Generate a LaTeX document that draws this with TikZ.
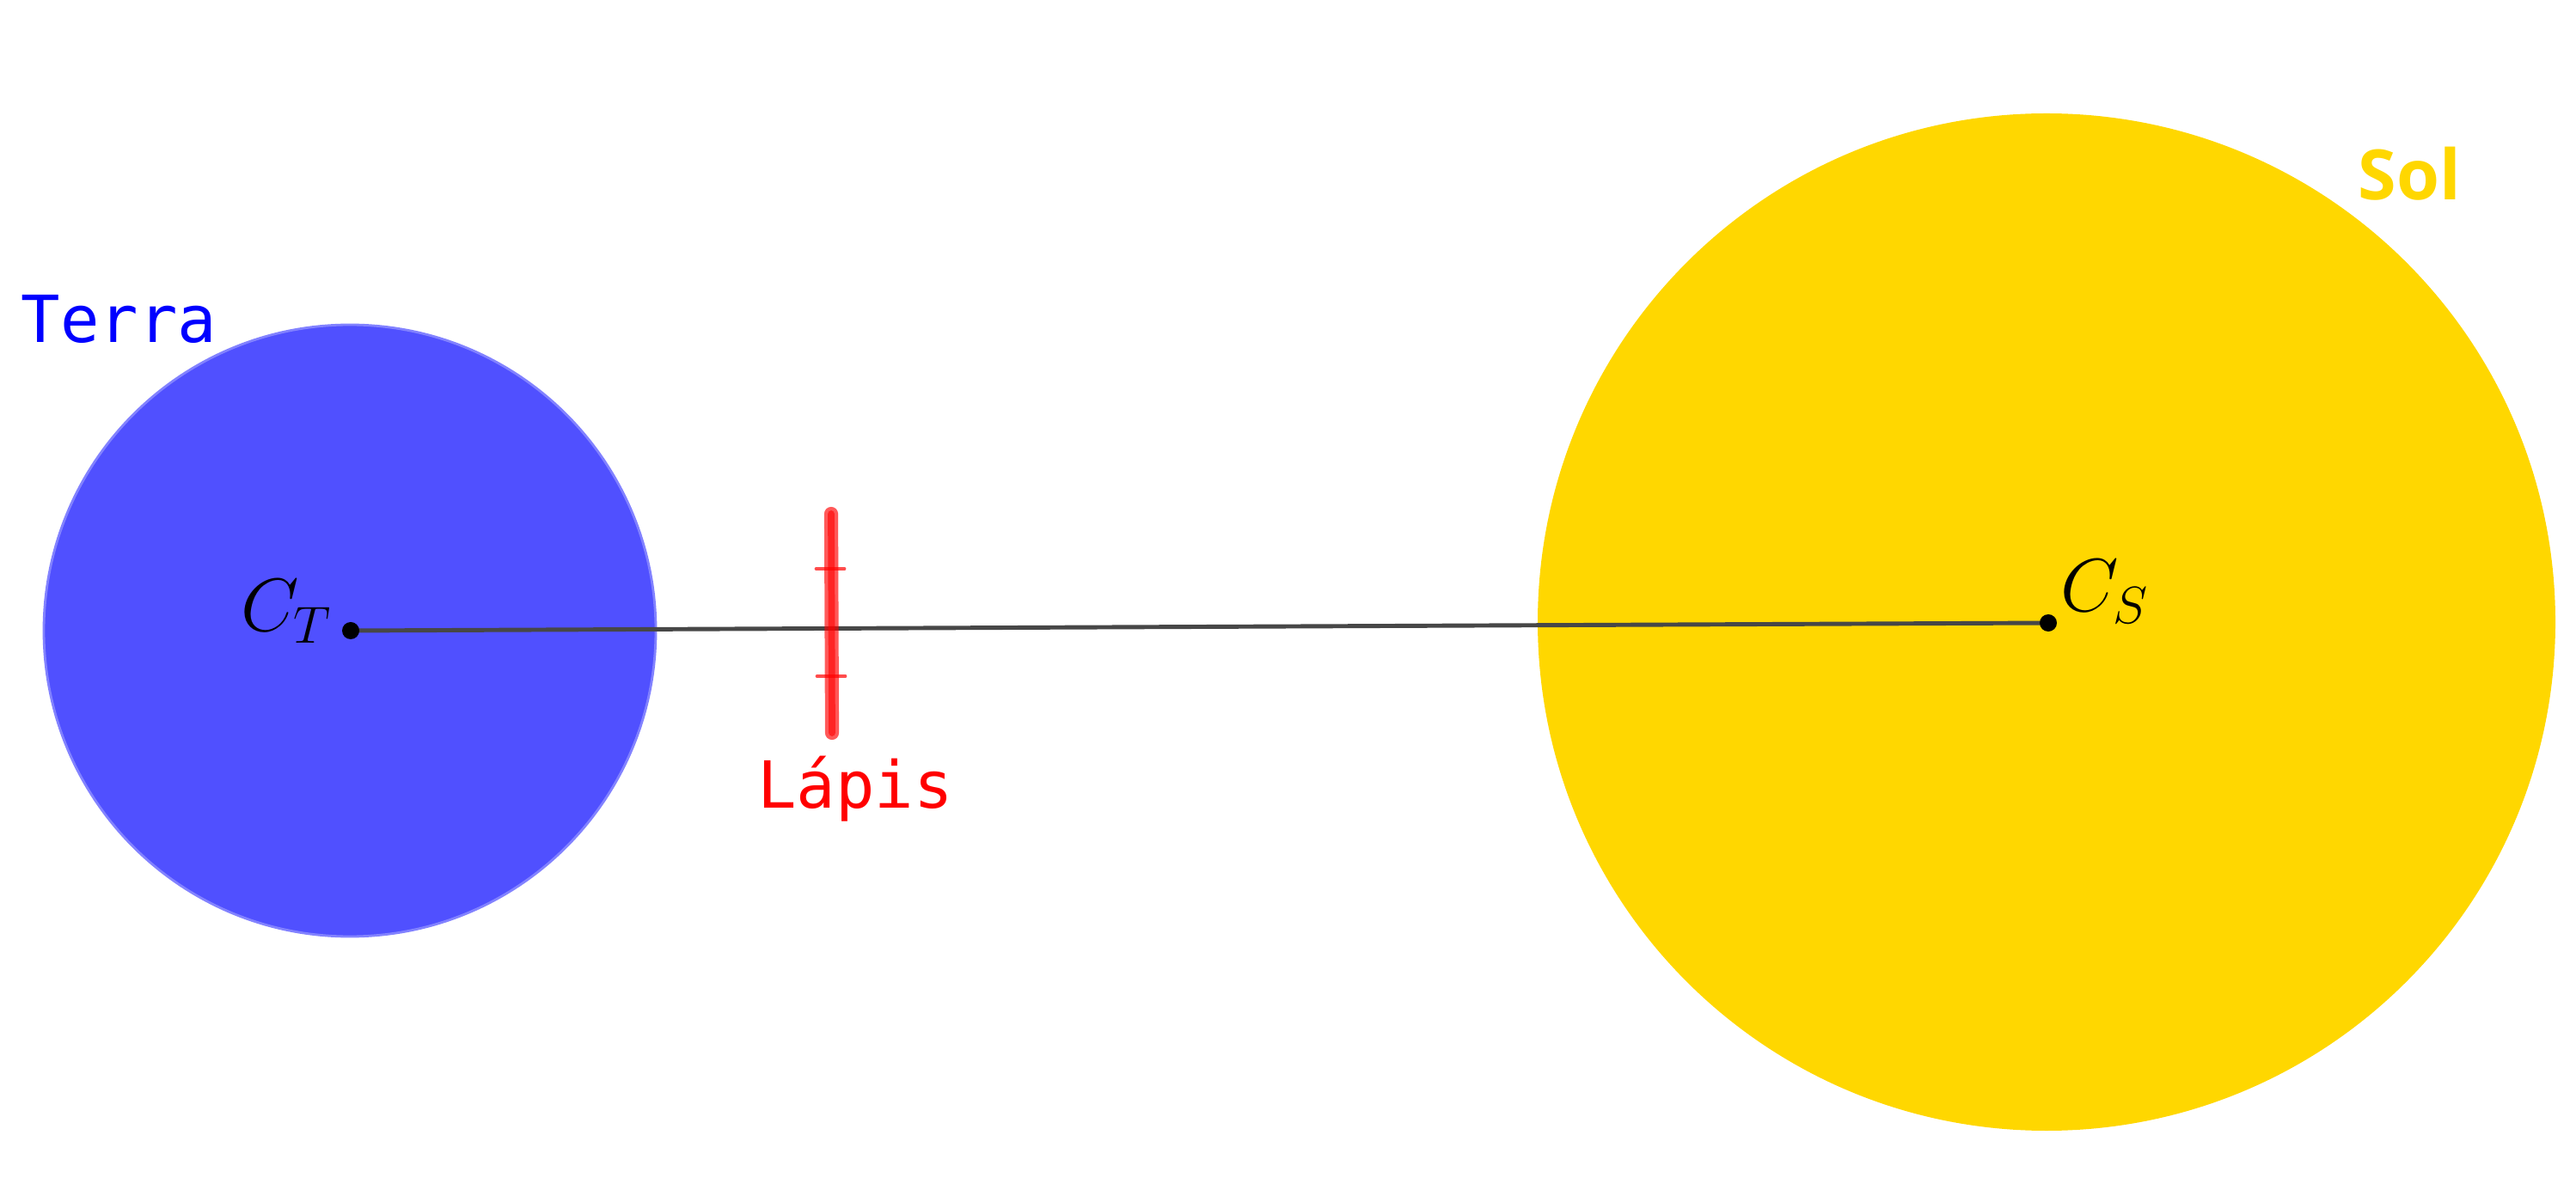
\documentclass[tikz,border=0pt]{standalone}
\usepackage{fontspec}
\usepackage{amsmath}
\usepackage{tikz}
\usetikzlibrary{positioning}
\newfontfamily\monofont{DejaVu Sans Mono}
\newfontfamily\solfont{Open Sans}
\definecolor{terrablue}{RGB}{80,80,255}
\definecolor{terraedge}{RGB}{130,130,255}
\definecolor{solgold}{RGB}{255,215,0}
\definecolor{lapisred}{RGB}{255,0,0}
\colorlet{axisgray}{black!72}

\begin{document}
\begin{tikzpicture}[font=\fontsize{24}{28}\selectfont]
\useasboundingbox (0,0) rectangle (29.97,13.91);
% ---- the two bodies --------------------------------------------------
% 1 cm = 100 px of the reference; y measured from the bottom edge.
\fill[terrablue] (4.07,6.57) circle (3.56);
\draw[terraedge,line width=0.8pt] (4.07,6.57) circle (3.56);
\fill[solgold] (23.81,6.67) circle (5.92);
\node[font=\monofont\fontsize{21.5}{26}\selectfont,text=blue,anchor=base west,inner sep=0]
  (terra) at (0.24,9.92) {Terra};
\node[font=\solfont\bfseries\fontsize{23}{28}\selectfont,text=solgold,anchor=base west,inner sep=0]
  (sol) at (27.43,11.58) {Sol};
% ---- centres and the line joining them --------------------------------
\coordinate (cT) at (4.08,6.57);
\coordinate (cS) at (23.83,6.66);
\draw[axisgray,line width=1.4pt] (cT) -- (cS);
\fill[black] (cT) circle (0.10);
\fill[black] (cS) circle (0.10);
\node[anchor=base east,inner sep=0] (labT) at (3.87,6.56) {$C_T$};
\node[anchor=base west,inner sep=0] (labS) at (23.97,6.79) {$C_S$};
% ---- the pencil held between them -------------------------------------
% two strokes on top of each other give the lighter rim of the reference
\draw[lapisred,opacity=0.65,line width=4.6pt,line cap=round] (9.67,7.93) -- (9.68,5.38);
\draw[lapisred,opacity=0.6,line width=2.2pt,line cap=round] (9.67,7.93) -- (9.68,5.38);
\draw[lapisred,opacity=0.7,line width=1.4pt,line cap=round] (9.50,7.29) -- (9.82,7.29);
\draw[lapisred,opacity=0.7,line width=1.4pt,line cap=round] (9.51,6.04) -- (9.83,6.04);
\node[font=\monofont\fontsize{21.5}{26}\selectfont,text=lapisred,anchor=base,inner sep=0]
  (lapis) at (9.95,4.51) {Lápis};
\end{tikzpicture}
\end{document}
